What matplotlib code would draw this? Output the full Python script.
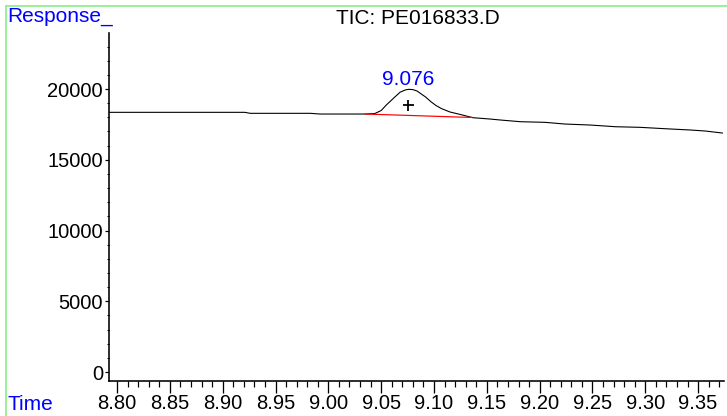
import matplotlib
matplotlib.use('Agg')
import matplotlib.pyplot as plt
from matplotlib.lines import Line2D
from matplotlib.ticker import MultipleLocator, FormatStrFormatter

# ── Data ─────────────────────────────────────────────────────────────────────
times = [8.7924, 8.835, 8.870, 8.921, 8.926, 8.983, 8.992, 9.035, 9.044,
         9.050, 9.055, 9.063, 9.068, 9.073, 9.076, 9.080, 9.084, 9.087,
         9.092, 9.097, 9.102, 9.107, 9.115, 9.125, 9.137, 9.153, 9.163,
         9.182, 9.205, 9.224, 9.248, 9.272, 9.295, 9.319, 9.343, 9.357,
         9.373]
response = [18353, 18353, 18353, 18353, 18283, 18283, 18233, 18233, 18268,
            18480, 18880, 19440, 19780, 19940, 19978, 19960, 19860, 19700,
            19440, 19110, 18830, 18620, 18380, 18200, 17972, 17880, 17809,
            17689, 17646, 17526, 17455, 17335, 17293, 17194, 17102, 17031,
            16890]

peak_rt = 9.076
peak_label = "9.076"
peak_label_y = 20282
peak_marker = (9.0756, 18870)
baseline_t = [9.035, 9.136]
baseline_r = [18233, 17990]

title = "TIC: PE016833.D"

FONT = "Liberation Sans"
BLUE = "#0000ff"
PX = 0.72   # one pixel in points at dpi 100

fig = plt.figure(figsize=(7.27, 4.16), dpi=100)
ax = fig.add_axes([109 / 727, 1 - 381 / 416, 615 / 727, 348 / 416])

ax.plot(times, response, color="black", linewidth=1.1 * PX)
ax.plot(baseline_t, baseline_r, color="red", linewidth=1.2 * PX)
ax.plot(*peak_marker, marker="+", color="black", markersize=11 * PX,
        markeredgewidth=1.8 * PX)
ax.text(peak_rt, peak_label_y, peak_label, color=BLUE, fontsize=15, family=FONT,
        ha="center", va="baseline")

ax.set_xlim(8.7924, 9.3745)
ax.set_ylim(-636, 23960)

ax.xaxis.set_major_locator(MultipleLocator(0.05))
ax.xaxis.set_minor_locator(MultipleLocator(0.01))
ax.xaxis.set_major_formatter(FormatStrFormatter("%.2f"))
ax.yaxis.set_major_locator(MultipleLocator(5000))
ax.yaxis.set_minor_locator(MultipleLocator(1000))

ax.spines["top"].set_visible(False)
ax.spines["right"].set_visible(False)
for s in ("left", "bottom"):
    ax.spines[s].set_linewidth(1.6 * PX)

ax.tick_params(axis="x", which="major", direction="out", length=12 * PX,
               width=1.3 * PX, pad=1 * PX)
ax.tick_params(axis="x", which="minor", direction="out", length=6 * PX,
               width=1.2 * PX)
ax.tick_params(axis="y", which="major", direction="out", length=4 * PX,
               width=1.2 * PX, pad=2 * PX)
ax.tick_params(axis="y", which="minor", direction="out", length=2 * PX,
               width=1.0 * PX)
for lbl in ax.get_xticklabels() + ax.get_yticklabels():
    lbl.set_fontsize(14.5)
    lbl.set_family(FONT)

fig.text(418 / 727, 1 - 18 / 416, title, fontsize=15, family=FONT,
         ha="center", va="center")
fig.text(7 / 727, 1 - 17 / 416, "Response_", fontsize=15, family=FONT,
         color=BLUE, ha="left", va="center")
fig.text(7 / 727, 1 - 404 / 416, "Time", fontsize=15, family=FONT,
         color=BLUE, ha="left", va="center")

# light green frame on the left and top edges
fig.add_artist(Line2D([5.5 / 727, 5.5 / 727], [0, 1 - 5.5 / 416],
                      transform=fig.transFigure, color="#88ee88", linewidth=1.2))
fig.add_artist(Line2D([5.5 / 727, 1], [1 - 5.5 / 416, 1 - 5.5 / 416],
                      transform=fig.transFigure, color="#88ee88", linewidth=1.2))

fig.savefig("out.png", dpi=100)
